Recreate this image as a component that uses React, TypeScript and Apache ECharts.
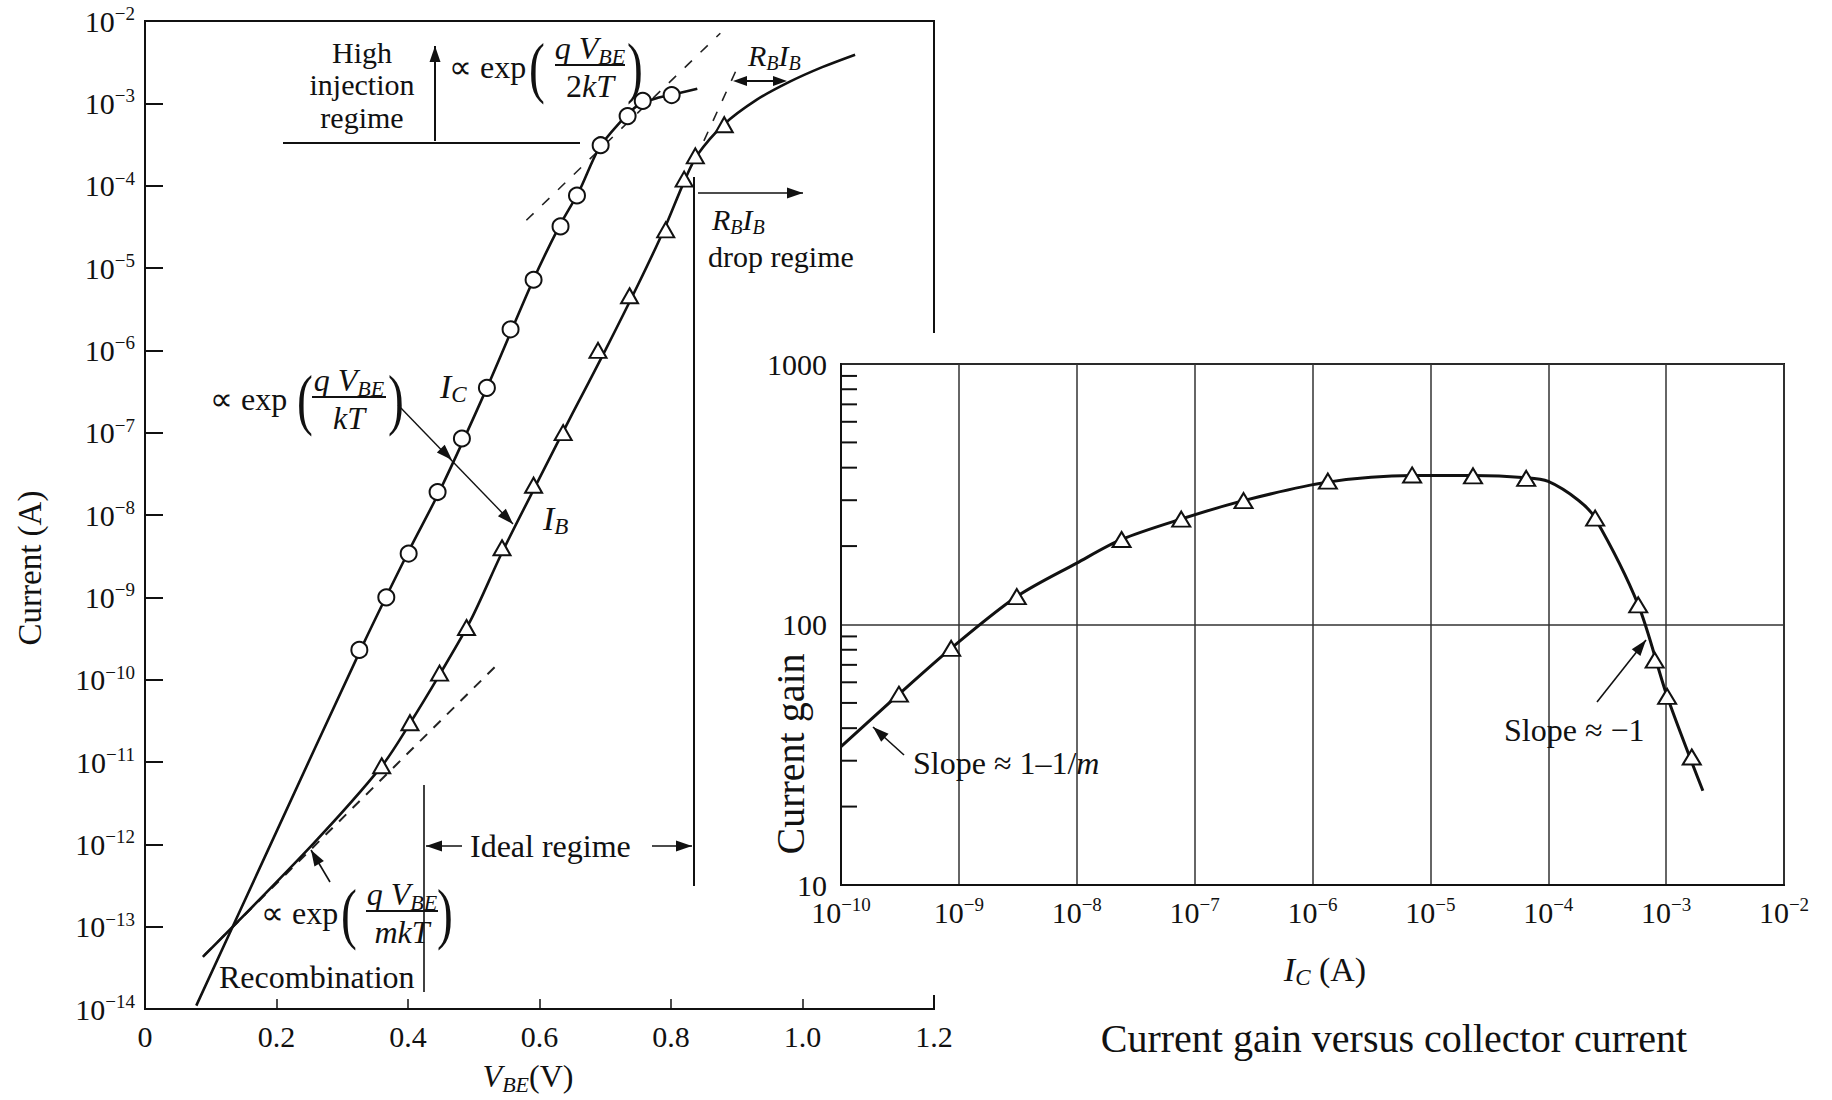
import React, { useEffect, useRef } from "react";
import * as echarts from "echarts";

const FONT = '"Liberation Serif", "Times New Roman", Times, serif';
const INK = "#111";

// ---------- Left panel: current vs V_BE ----------
const icMarkV = [0.326, 0.367, 0.401, 0.445, 0.482, 0.52, 0.556, 0.591, 0.632, 0.657, 0.693, 0.734, 0.757, 0.801];
const icMarkI = [2.3e-10, 1.0e-9, 3.4e-9, 1.9e-8, 8.5e-8, 3.5e-7, 1.8e-6, 7.2e-6, 3.2e-5, 7.6e-5, 3.1e-4, 7.0e-4, 1.07e-3, 1.26e-3];
const icCurveV = [0.078, 0.187, 0.33, 0.4, 0.45, 0.52, 0.59, 0.63, 0.66, 0.69, 0.72, 0.75, 0.78, 0.8, 0.84];
const icCurveI = [1.1e-14, 8.5e-13, 2.5e-10, 3.5e-9, 2.1e-8, 3.5e-7, 7e-6, 3.2e-5, 8.5e-5, 2.8e-4, 5.6e-4, 9.5e-4, 1.17e-3, 1.26e-3, 1.5e-3];

const ibMarkV = [0.36, 0.403, 0.448, 0.489, 0.543, 0.591, 0.636, 0.689, 0.737, 0.792, 0.82, 0.837, 0.881];
const ibMarkI = [9e-12, 3e-11, 1.2e-10, 4.3e-10, 4e-9, 2.3e-8, 1e-7, 1e-6, 4.6e-6, 2.9e-5, 1.2e-4, 2.3e-4, 5.5e-4];
const ibCurveV = [0.088, 0.255, 0.36, 0.403, 0.448, 0.495, 0.543, 0.6, 0.65, 0.7, 0.75, 0.79, 0.82, 0.84, 0.88, 0.93, 0.98, 1.03, 1.08];
const ibCurveI = [4.3e-14, 1e-12, 8.9e-12, 2.95e-11, 1.15e-10, 5.2e-10, 3.5e-9, 2.8e-8, 1.7e-7, 1e-6, 6.3e-6, 3e-5, 1.12e-4, 2.35e-4, 5.5e-4, 1.1e-3, 1.82e-3, 2.75e-3, 3.9e-3];

const icHighDashV = [0.58, 0.875];
const icHighDashI = [3.8e-5, 7.1e-3];
const ibHighDashV = [0.85, 0.905];
const ibHighDashI = [3.5e-4, 3.2e-3];
const ibLowDashV = [0.09, 0.533];
const ibLowDashI = [4.5e-14, 1.45e-10];

// ---------- Right panel: current gain vs I_C ----------
const gainMarkIc = [3.1e-10, 8.6e-10, 3.1e-9, 2.4e-8, 7.7e-8, 2.6e-7, 1.35e-6, 7e-6, 2.3e-5, 6.5e-5, 2.5e-4, 5.8e-4, 8e-4, 1.02e-3, 1.65e-3];
const gainMark = [54, 81, 128, 212, 254, 299, 355, 375, 372, 364, 256, 119, 73, 53, 31];
const gainCurveIc = [1.0e-10, 3.1e-10, 8.6e-10, 3.1e-9, 1e-8, 2.4e-8, 7.7e-8, 2.6e-7, 1.35e-6, 7e-6, 2.3e-5, 6.5e-5, 1.0e-4, 1.8e-4, 2.5e-4, 5.8e-4, 1.02e-3, 2.05e-3];
const gainCurve = [34, 54, 81, 128, 172, 212, 254, 299, 352, 373, 373, 366, 354, 300, 256, 119, 53, 23];
const gainMinorTicks = [20, 30, 40, 50, 60, 70, 80, 90, 200, 300, 400, 500, 600, 700, 800, 900];

const zip = (a: number[], b: number[]) => a.map((v, i) => [v, b[i]]);

const powLabel = (v: number) => {
  const e = Math.round(Math.log10(v));
  return "{b|10}{e|" + (e < 0 ? "\u2212" + Math.abs(e) : String(e)) + "}";
};
const powRich = {
  b: { fontFamily: FONT, fontSize: 30, color: INK, verticalAlign: "middle" },
  e: { fontFamily: FONT, fontSize: 19, color: INK, verticalAlign: "middle", padding: [0, 0, 15, 0] },
};

const richStyles = (size: number) => ({
  n: { fontFamily: FONT, fontSize: size, color: INK, verticalAlign: "middle" },
  i: { fontFamily: FONT, fontSize: size, fontStyle: "italic", color: INK, verticalAlign: "middle" },
  s: { fontFamily: FONT, fontSize: Math.round(size * 0.68), fontStyle: "italic", color: INK, verticalAlign: "middle", padding: [Math.round(size * 0.5), 0, 0, 0] },
});

function txt(text: string, x: number, y: number, size: number, opts: any = {}) {
  return {
    type: "text",
    x,
    y,
    rotation: opts.rotation || 0,
    z: 20,
    style: {
      text,
      x: 0,
      y: 0,
      fill: INK,
      fontFamily: FONT,
      fontSize: size,
      fontStyle: opts.italic ? "italic" : "normal",
      align: opts.align || "left",
      verticalAlign: "middle",
      rich: opts.rich ? richStyles(size) : undefined,
    },
  };
}

function seg(x1: number, y1: number, x2: number, y2: number, w = 1.6) {
  return { type: "line", z: 20, shape: { x1, y1, x2, y2 }, style: { stroke: INK, lineWidth: w } };
}

function head(fx: number, fy: number, tx: number, ty: number, len = 16, w = 5.5) {
  const a = Math.atan2(ty - fy, tx - fx);
  const bx = tx - len * Math.cos(a);
  const by = ty - len * Math.sin(a);
  const px = -Math.sin(a) * w;
  const py = Math.cos(a) * w;
  return {
    type: "polygon",
    z: 20,
    shape: { points: [[tx, ty], [bx + px, by + py], [bx - px, by - py]] },
    style: { fill: INK },
  };
}

function arrow(fx: number, fy: number, tx: number, ty: number, w = 1.6) {
  return [seg(fx, fy, tx, ty, w), head(fx, fy, tx, ty)];
}

function paren(ch: string, x: number, y: number) {
  return { type: "text", x, y, scaleX: 0.7, z: 20, style: { text: ch, x: 0, y: 0, fill: INK, fontFamily: FONT, fontSize: 68, align: "left", verticalAlign: "middle" } };
}

function expr(ex: number, pL: number, cx: number, hw: number, pR: number, cy: number, den: string) {
  return [
    txt("\u221D exp", ex, cy + 2, 32),
    paren("(", pL, cy + 2),
    txt("{i|q}{i| V}{s|BE}", cx, cy - 17, 32, { rich: true, align: "center" }),
    seg(cx - hw, cy, cx + hw, cy, 2),
    txt(den, cx, cy + 21, 32, { rich: true, align: "center" }),
    paren(")", pR, cy + 2),
  ];
}

const graphics: any[] = [
  // white panel of the inset chart, covering the left chart behind it
  { type: "rect", z: 5, shape: { x: 752, y: 333, width: 1080, height: 662 }, style: { fill: "#fff" } },

  // left-panel annotations
  txt("High", 362, 52, 30, { align: "center" }),
  txt("injection", 362, 84, 30, { align: "center" }),
  txt("regime", 362, 117, 30, { align: "center" }),
  ...arrow(435, 141, 435, 46, 2),
  seg(283, 143, 580, 143, 2),
  ...expr(449, 529, 590, 35, 627, 65, "{n|2}{i|kT}"),
  ...expr(210, 297, 349, 37, 388, 397, "{i|kT}"),
  ...expr(261, 341, 402, 36, 437, 911, "{i|mkT}"),
  seg(398, 405, 513, 524, 1.4),
  head(398, 405, 452, 460),
  head(398, 405, 513, 524),
  ...arrow(330, 882, 311, 850),
  txt("{i|I}{s|C}", 440, 386, 34, { rich: true }),
  txt("{i|I}{s|B}", 543, 518, 34, { rich: true }),
  txt("Recombination", 219, 977, 32),
  seg(424, 785, 424, 992, 1.6),
  txt("Ideal regime", 470, 846, 32),
  ...arrow(462, 846, 426, 846),
  ...arrow(652, 846, 692, 846),
  seg(694, 177, 694, 886, 2),
  ...arrow(698, 193, 803, 193),
  txt("{i|R}{s|B}{i|I}{s|B}", 712, 219, 30, { rich: true }),
  txt("drop regime", 708, 256, 30),
  txt("{i|R}{s|B}{i|I}{s|B}", 748, 55, 30, { rich: true }),
  seg(736, 81, 784, 81, 2),
  head(784, 81, 733, 81, 14, 5),
  head(736, 81, 787, 81, 14, 5),
  txt("Current (A)", 30, 568, 33, { rotation: Math.PI / 2, align: "center" }),
  txt("{i|V}{s|BE}{n|(V)}", 528, 1076, 32, { rich: true, align: "center" }),

  // right-panel annotations
  txt("{n|Slope \u2248 1\u20131/}{i|m}", 913, 763, 32, { rich: true }),
  ...arrow(904, 755, 873, 727),
  txt("Slope \u2248 \u22121", 1504, 730, 32),
  ...arrow(1597, 702, 1646, 640),
  txt("Current gain", 790, 754, 40, { rotation: Math.PI / 2, align: "center" }),
  txt("{i|I}{s|C}{n| (A)}", 1325, 969, 34, { rich: true, align: "center" }),
  txt("Current gain versus collector current", 1394, 1038, 40, { align: "center" }),
];

const markerStyle = { color: "#fff", borderColor: INK, borderWidth: 2, opacity: 1 };

const option: any = {
  animation: false,
  backgroundColor: "#fff",
  grid: [
    { left: 145, top: 21, width: 789, height: 988, show: true, borderColor: INK, borderWidth: 2, backgroundColor: "transparent", z: 0 },
    { left: 841, top: 364, width: 943, height: 521, show: true, borderColor: INK, borderWidth: 2, backgroundColor: "transparent", z: 10 },
  ],
  xAxis: [
    {
      gridIndex: 0,
      type: "value",
      min: 0,
      max: 1.2,
      interval: 0.2,
      axisLine: { show: true, onZero: false, lineStyle: { color: INK, width: 2 } },
      axisTick: { show: true, inside: true, length: 10, lineStyle: { color: INK, width: 1.5 } },
      axisLabel: { fontFamily: FONT, fontSize: 30, color: INK, margin: 12, formatter: (v: number) => (v === 0 ? "0" : v.toFixed(1)) },
      splitLine: { show: false },
    },
    {
      gridIndex: 1,
      type: "log",
      logBase: 10,
      min: 1e-10,
      max: 1e-2,
      interval: 1,
      z: 10,
      axisLine: { show: true, onZero: false, lineStyle: { color: INK, width: 2 } },
      axisTick: { show: false },
      axisLabel: { margin: 10, formatter: powLabel, rich: powRich },
      splitLine: { show: true, lineStyle: { color: "#333", width: 1.5 } },
    },
  ],
  yAxis: [
    {
      gridIndex: 0,
      type: "log",
      logBase: 10,
      min: 1e-14,
      max: 1e-2,
      interval: 1,
      axisLine: { show: true, onZero: false, lineStyle: { color: INK, width: 2 } },
      axisTick: { show: true, inside: true, length: 18, lineStyle: { color: INK, width: 2 } },
      axisLabel: { margin: 10, formatter: powLabel, rich: powRich },
      splitLine: { show: false },
    },
    {
      gridIndex: 1,
      type: "log",
      logBase: 10,
      min: 10,
      max: 1000,
      interval: 1,
      z: 10,
      axisLine: { show: true, onZero: false, lineStyle: { color: INK, width: 2 } },
      axisTick: { show: false },
      axisLabel: { fontFamily: FONT, fontSize: 30, color: INK, margin: 14, formatter: (v: number) => String(Math.round(v)) },
      splitLine: { show: true, lineStyle: { color: "#333", width: 1.5 } },
    },
  ],
  graphic: { elements: graphics },
  series: [
    { type: "line", name: "I_B low-current asymptote", xAxisIndex: 0, yAxisIndex: 0, data: zip(ibLowDashV, ibLowDashI), symbol: "none", lineStyle: { color: "#222", width: 2, type: [10, 9] }, z: 2 },
    { type: "line", name: "I_C high-injection asymptote", xAxisIndex: 0, yAxisIndex: 0, data: zip(icHighDashV, icHighDashI), symbol: "none", lineStyle: { color: "#222", width: 1.6, type: [10, 12] }, z: 2 },
    { type: "line", name: "I_B ideal extension", xAxisIndex: 0, yAxisIndex: 0, data: zip(ibHighDashV, ibHighDashI), symbol: "none", lineStyle: { color: "#222", width: 1.6, type: [10, 12] }, z: 2 },
    { type: "line", name: "I_C", xAxisIndex: 0, yAxisIndex: 0, data: zip(icCurveV, icCurveI), smooth: 0.3, symbol: "none", lineStyle: { color: INK, width: 2.6 }, z: 3 },
    { type: "line", name: "I_B", xAxisIndex: 0, yAxisIndex: 0, data: zip(ibCurveV, ibCurveI), smooth: 0.3, symbol: "none", lineStyle: { color: INK, width: 2.6 }, z: 3 },
    { type: "scatter", name: "I_C data", xAxisIndex: 0, yAxisIndex: 0, data: zip(icMarkV, icMarkI), symbol: "circle", symbolSize: 16, itemStyle: markerStyle, z: 4 },
    { type: "scatter", name: "I_B data", xAxisIndex: 0, yAxisIndex: 0, data: zip(ibMarkV, ibMarkI), symbol: "triangle", symbolSize: [17, 15], itemStyle: markerStyle, z: 4 },

    {
      type: "custom",
      name: "minor ticks",
      xAxisIndex: 1,
      yAxisIndex: 1,
      z: 11,
      silent: true,
      data: gainMinorTicks.map((v) => [1e-10, v]),
      renderItem: (params: any, api: any) => {
        const p = api.coord([api.value(0), api.value(1)]);
        return { type: "line", shape: { x1: p[0], y1: p[1], x2: p[0] + 16, y2: p[1] }, style: { stroke: INK, lineWidth: 2 } };
      },
    },
    { type: "line", name: "Current gain", xAxisIndex: 1, yAxisIndex: 1, data: zip(gainCurveIc, gainCurve), smooth: 0.3, symbol: "none", lineStyle: { color: INK, width: 3 }, z: 12 },
    { type: "scatter", name: "Gain data", xAxisIndex: 1, yAxisIndex: 1, data: zip(gainMarkIc, gainMark), symbol: "triangle", symbolSize: [18, 15], itemStyle: markerStyle, z: 13 },
  ],
};

export default function App() {
  const ref = useRef<HTMLDivElement>(null);
  useEffect(() => {
    const chart = echarts.init(ref.current as HTMLDivElement, null, { renderer: "svg" });
    chart.setOption(option);
    return () => chart.dispose();
  }, []);
  return <div ref={ref} style={{ position: "fixed", left: 0, top: 0, width: 1832, height: 1100, background: "#fff" }} />;
}
